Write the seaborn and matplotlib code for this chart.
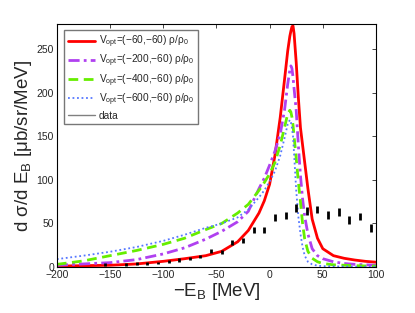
import numpy as np
import pandas as pd
import matplotlib
matplotlib.use("Agg")
import matplotlib.pyplot as plt
import seaborn as sns
from matplotlib.lines import Line2D

# energy grid (MeV) for the model curves
energy = [-200, -175, -150, -125, -100, -80, -60, -45, -30, -20, -10, -5, 0, 5, 10,
          14, 17, 19, 20, 21, 22, 23, 25, 27, 29, 31, 33, 36, 40, 45, 50, 60, 70, 80, 90, 100]

v60 = [1.0, 1.5, 2.0, 3.5, 6.5, 9.5, 13, 18, 29, 42, 62, 76, 95, 128, 172,
       215, 248, 265, 271, 276, 277, 268, 235, 195, 160, 140, 120, 90, 55, 33, 21, 13, 10, 8, 6.5, 5.5]
v200 = [2, 3.5, 5, 8.5, 15, 22, 32, 41, 52, 64, 90, 102, 117, 133, 153,
        180, 210, 226, 231, 228, 218, 205, 180, 140, 105, 78, 58, 38, 21, 13, 9.5, 6, 4, 3, 2.5, 2]
v400 = [3, 7, 13, 19, 26, 33, 43, 50, 62, 72, 88, 97, 107, 120, 140,
        160, 176, 180, 178, 172, 163, 150, 125, 98, 75, 50, 32, 18, 10, 6, 4, 2.5, 2, 1.5, 1.2, 1]
v600 = [9, 13, 17.5, 23, 30, 37, 45, 50, 57, 66, 80, 88, 98, 110, 128,
        148, 164, 169, 166, 160, 150, 130, 88, 58, 38, 23, 13, 6, 3, 1.5, 1, 0.7, 0.5, 0.4, 0.3, 0.3]

# measured points
data_x = [-155, -135, -125, -115, -105, -95, -85, -75, -65, -55, -45, -35, -25,
          -15, -5, 5, 15, 25, 35, 45, 55, 65, 75, 85, 95]
data_y = [3, 3, 4, 4, 4.5, 6, 8, 9.5, 12, 18, 17, 28, 30,
          42, 42, 57, 59, 68, 64, 66, 60, 63, 54, 58, 45]
data_err = [1.5, 1.5, 1.5, 1.5, 1.5, 1.8, 2, 2, 2.2, 2.5, 2.5, 3, 3,
            3.5, 3.5, 4, 4, 4.5, 4.5, 4.5, 4.5, 4.5, 4.5, 4.5, 4.5]

labels = [r"V$_{\mathrm{opt}}$=(−60,−60) ρ/ρ$_0$",
          r"V$_{\mathrm{opt}}$=(−200,−60) ρ/ρ$_0$",
          r"V$_{\mathrm{opt}}$=(−400,−60) ρ/ρ$_0$",
          r"V$_{\mathrm{opt}}$=(−600,−60) ρ/ρ$_0$"]

sns.set_style("white")
plt.rcParams['font.family'] = ['Liberation Sans', 'DejaVu Sans']
plt.rcParams['mathtext.fontset'] = 'custom'
plt.rcParams['mathtext.rm'] = 'Liberation Sans'
plt.rcParams['mathtext.it'] = 'Liberation Sans:italic'

fig = plt.figure(figsize=(4.15, 3.13), dpi=100)
ax = fig.add_axes([0.137, 0.147, 0.769, 0.776])

styles = [
    dict(color="#ff0000", linestyle="-", linewidth=2.0),
    dict(color="#b040f0", linestyle=(0, (4, 1.5, 1, 1.5)), linewidth=2.0),
    dict(color="#66ee00", linestyle=(0, (3.5, 2)), linewidth=2.0),
    dict(color="#5577ff", linestyle=(0, (1, 1.5)), linewidth=1.3),
]
for vals, lab, st in zip([v60, v200, v400, v600], labels, styles):
    df = pd.DataFrame({"E": energy, "y": vals})
    sns.lineplot(data=df, x="E", y="y", ax=ax, label=lab, **st)

ax.errorbar(data_x, data_y, yerr=data_err, fmt="none", ecolor="black",
            elinewidth=2.0, capsize=0)

handles, labs = ax.get_legend_handles_labels()
handles.append(Line2D([], [], color="gray", lw=1.0))
labs.append("data")
leg = ax.legend(handles, labs, loc="upper left", bbox_to_anchor=(0.023, 0.975),
                fontsize=7.3, frameon=True, fancybox=False, edgecolor="#555555",
                handlelength=2.7, handletextpad=0.35, labelspacing=0.28,
                borderpad=0.35, borderaxespad=0)
leg.get_frame().set_linewidth(1.0)

ax.set_xlim(-200, 100)
ax.set_ylim(0, 279)
ax.set_xticks([-200, -150, -100, -50, 0, 50, 100])
ax.set_yticks([0, 50, 100, 150, 200, 250])
ax.tick_params(direction="in", top=True, right=True, length=3, width=0.6,
               labelsize=7.5, pad=2)
for s in ax.spines.values():
    s.set_color("black")
    s.set_linewidth(0.8)

ax.set_xlabel(r"−E$_{\mathrm{B}}$ [MeV]", fontsize=13.5, labelpad=1)
ax.set_ylabel(r"d σ/d E$_{\mathrm{B}}$ [μb/sr/MeV]", fontsize=13.5, labelpad=2)

fig.savefig("out.png", dpi=100)
